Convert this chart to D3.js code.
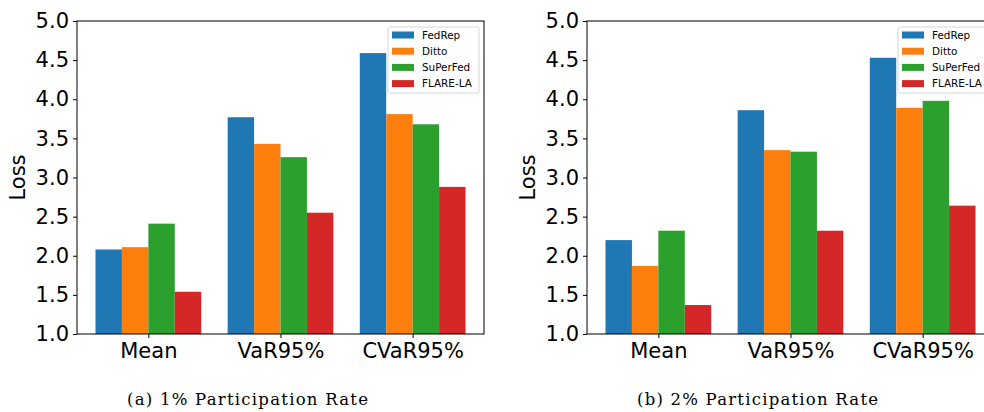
<!DOCTYPE html>
<html><head><meta charset="utf-8">
<script src="https://cdn.jsdelivr.net/npm/d3@7"></script>
<style>body{margin:0;background:#fff}svg{display:block}</style>
</head><body>
<script>
const categories = ["Mean", "VaR95%", "CVaR95%"];
const methods = ["FedRep", "Ditto", "SuPerFed", "FLARE-LA"];
const colors = ["#1f77b4", "#ff7f0e", "#2ca02c", "#d62728"];
const yTicks = [1.0, 1.5, 2.0, 2.5, 3.0, 3.5, 4.0, 4.5, 5.0];
// values per method, per category
const rate1 = {
  "FedRep":   [2.08, 3.77, 4.59],
  "Ditto":    [2.11, 3.43, 3.81],
  "SuPerFed": [2.41, 3.26, 3.68],
  "FLARE-LA": [1.54, 2.55, 2.88]
};
const rate2 = {
  "FedRep":   [2.20, 3.86, 4.53],
  "Ditto":    [1.87, 3.35, 3.89],
  "SuPerFed": [2.32, 3.33, 3.98],
  "FLARE-LA": [1.37, 2.32, 2.64]
};
const captions = ["(a) 1% Participation Rate", "(b) 2% Participation Rate"];

const W = 984, H = 412;
const svg = d3.select("body").append("svg").attr("width", W).attr("height", H);
const font = "DejaVu Sans, sans-serif";

function panel(data, x0, caption, capX) {
  const left = x0, right = x0 + 407, top = 21, bottom = 334;
  const x = d3.scaleLinear().domain([-0.54, 2.54]).range([left, right]);
  const y = d3.scaleLinear().domain([1, 5]).range([bottom, top]);
  const g = svg.append("g");
  const bw = 0.2;
  methods.forEach((m, i) => {
    g.selectAll(null).data(data[m]).enter().append("rect")
      .attr("x", (d, j) => x(j + (i - 1.5) * bw - bw / 2))
      .attr("width", x(bw) - x(0))
      .attr("y", d => y(d))
      .attr("height", d => y(1) - y(d))
      .attr("fill", colors[i]);
  });
  // frame
  g.append("rect").attr("x", left).attr("y", top).attr("width", right - left).attr("height", bottom - top)
    .attr("fill", "none").attr("stroke", "#000").attr("stroke-width", 1);
  // y axis
  const ya = g.append("g").attr("transform", `translate(${left},0)`)
    .call(d3.axisLeft(y).tickValues(yTicks).tickFormat(d3.format(".1f")).tickSize(4).tickPadding(4));
  ya.select(".domain").remove();
  ya.selectAll("text").attr("font-family", font).attr("font-size", 21).attr("fill", "#000");
  // x axis
  const xa = g.append("g").attr("transform", `translate(0,${bottom})`)
    .call(d3.axisBottom(x).tickValues([0, 1, 2]).tickFormat(i => categories[i]).tickSize(4).tickPadding(5));
  xa.select(".domain").remove();
  xa.selectAll("text").attr("font-family", font).attr("font-size", 21).attr("fill", "#000");
  // y label
  g.append("text").attr("transform", `translate(${x0 - 52},${(top + bottom) / 2}) rotate(-90)`)
    .attr("text-anchor", "middle").attr("font-family", font).attr("font-size", 21).text("Loss");
  // legend
  const lw = 91, lh = 66, lx = right - 5 - lw, ly = 27;
  const lg = g.append("g");
  lg.append("rect").attr("x", lx).attr("y", ly).attr("width", lw).attr("height", lh).attr("rx", 2)
    .attr("fill", "#fff").attr("fill-opacity", 0.8).attr("stroke", "#d6d6d6").attr("stroke-width", 1);
  methods.forEach((m, i) => {
    const cy = ly + 8 + i * 16.2;
    lg.append("rect").attr("x", lx + 4).attr("y", cy - 3.5).attr("width", 22).attr("height", 7).attr("fill", colors[i]);
    lg.append("text").attr("x", lx + 34).attr("y", cy).attr("dy", "0.36em")
      .attr("font-family", font).attr("font-size", 10.4).text(m);
  });
  // caption
  svg.append("text").attr("x", capX - 120.5).attr("y", 405)
    .attr("font-family", "DejaVu Serif, serif").attr("font-size", 16.5)
    .attr("textLength", 241).attr("lengthAdjust", "spacing").text(caption);
}
panel(rate1, 77, captions[0], 247.5);
panel(rate2, 587, captions[1], 757.5);
</script>
</body></html>
